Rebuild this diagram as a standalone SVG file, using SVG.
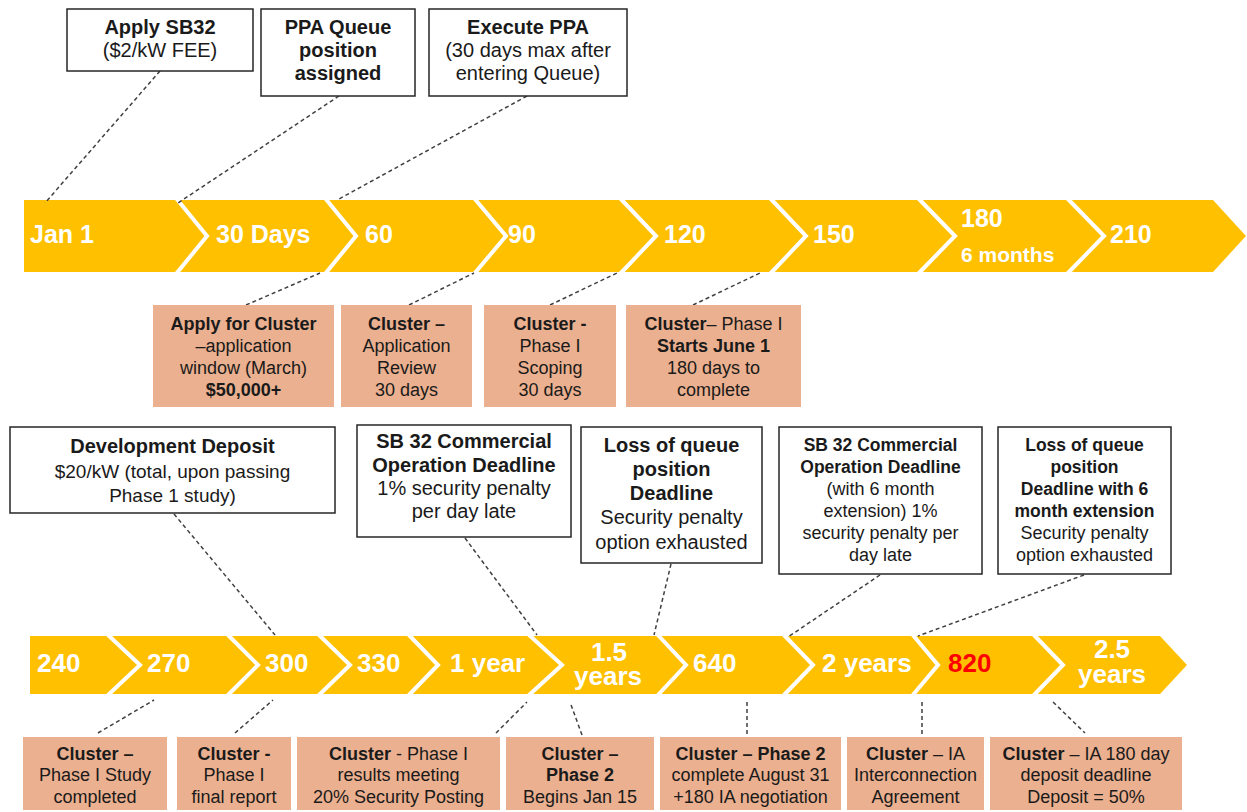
<svg xmlns="http://www.w3.org/2000/svg" width="1247" height="812" viewBox="0 0 1247 812">
<style>
.band{fill:#FFC000}
.sep{fill:none;stroke:#fff;stroke-width:4;stroke-linejoin:miter}
.lbl{font-family:"Liberation Sans",Arial,sans-serif;font-weight:bold;fill:#fff;font-size:25px}
.lbl2{font-family:"Liberation Sans",Arial,sans-serif;font-weight:bold;fill:#fff;font-size:26px}
.box{fill:#fff;stroke:#262626;stroke-width:1.5}
.sbox{fill:#EBB08F}
.t{font-family:"Liberation Sans",Arial,sans-serif;fill:#1a1a1a;text-anchor:middle;font-size:18px}
.t20{font-size:20px}
.b{font-weight:bold}
.conn{fill:none;stroke:#404040;stroke-width:1.5;stroke-dasharray:4 3}
</style>
<rect width="1247" height="812" fill="#fff"/>

<!-- top band -->
<g id="band-top">
<polygon class="band" points="24,200 1213,200 1246,236 1213,272 24,272"/>
<polyline class="sep" points="176,198 207,236 176,274"/>
<polyline class="sep" points="325,198 356,236 325,274"/>
<polyline class="sep" points="474,198 506,236 474,274"/>
<polyline class="sep" points="620,198 656,236 620,274"/>
<polyline class="sep" points="770,198 806,236 770,274"/>
<polyline class="sep" points="918,198 955,236 918,274"/>
<polyline class="sep" points="1067,198 1104,236 1067,274"/>
<text class="lbl" x="30" y="243">Jan 1</text>
<text class="lbl" x="216" y="243">30 Days</text>
<text class="lbl" x="365" y="243">60</text>
<text class="lbl" x="508" y="243">90</text>
<text class="lbl" x="664" y="243">120</text>
<text class="lbl" x="813" y="243">150</text>
<text class="lbl" x="961" y="227">180<tspan x="961" y="262" style="font-size:21px">6 months</tspan></text>
<text class="lbl" x="1110" y="243">210</text>
</g>

<!-- bottom band -->
<g id="band-bottom">
<polygon class="band" points="30,636 1160,636 1187,665 1160,694 30,694"/>
<polyline class="sep" points="107,634 140,665 107,696"/>
<polyline class="sep" points="227,634 258,665 227,696"/>
<polyline class="sep" points="318,634 350,665 318,696"/>
<polyline class="sep" points="408,634 438,665 408,696"/>
<polyline class="sep" points="528,634 562,665 528,696"/>
<polyline class="sep" points="657,634 686,665 657,696"/>
<polyline class="sep" points="783,634 813,665 783,696"/>
<polyline class="sep" points="912,634 938,665 912,696"/>
<polyline class="sep" points="1033,634 1063,665 1033,696"/>
<text class="lbl2" x="37" y="672">240</text>
<text class="lbl2" x="147" y="672">270</text>
<text class="lbl2" x="265" y="672">300</text>
<text class="lbl2" x="357" y="672">330</text>
<text class="lbl2" x="450" y="672">1 year</text>
<text class="lbl2" x="609" y="661" text-anchor="middle">1.5<tspan x="608" y="685">years</tspan></text>
<text class="lbl2" x="693" y="672">640</text>
<text class="lbl2" x="822" y="672">2 years</text>
<text class="lbl2" x="948" y="672" style="fill:#FF0000">820</text>
<text class="lbl2" x="1112" y="658" text-anchor="middle">2.5<tspan x="1112" y="683">years</tspan></text>
</g>

<!-- connectors -->
<g id="connectors">
<line class="conn" x1="160" y1="71" x2="45" y2="203"/>
<line class="conn" x1="339" y1="96" x2="178" y2="203"/>
<line class="conn" x1="527" y1="96" x2="339" y2="199"/>
<line class="conn" x1="246" y1="305" x2="320" y2="273"/>
<line class="conn" x1="409" y1="305" x2="474" y2="273"/>
<line class="conn" x1="550" y1="305" x2="617" y2="273"/>
<line class="conn" x1="693" y1="305" x2="760" y2="273"/>
<line class="conn" x1="174" y1="514" x2="275" y2="635"/>
<line class="conn" x1="465" y1="538" x2="537" y2="635"/>
<line class="conn" x1="671" y1="564" x2="654" y2="635"/>
<line class="conn" x1="880" y1="575" x2="788" y2="637"/>
<line class="conn" x1="1084" y1="575" x2="918" y2="636"/>
<line class="conn" x1="98" y1="733" x2="154" y2="700"/>
<line class="conn" x1="235" y1="733" x2="273" y2="700"/>
<line class="conn" x1="496" y1="733" x2="527" y2="702"/>
<line class="conn" x1="582" y1="735" x2="570" y2="702"/>
<line class="conn" x1="747" y1="702" x2="747" y2="735"/>
<line class="conn" x1="922" y1="702" x2="922" y2="735"/>
<line class="conn" x1="1053" y1="702" x2="1085" y2="733"/>
</g>

<!-- top callouts -->
<g id="apply-sb32">
<rect class="box" x="67" y="9" width="186" height="62"/>
<text class="t t20 b" x="160" y="34">Apply SB32</text>
<text class="t t20" x="160" y="57">($2/kW FEE)</text>
</g>
<g id="ppa-queue">
<rect class="box" x="261" y="9" width="154" height="87"/>
<text class="t t20 b" x="338" y="34">PPA Queue</text>
<text class="t t20 b" x="338" y="57">position</text>
<text class="t t20 b" x="338" y="80">assigned</text>
</g>
<g id="execute-ppa">
<rect class="box" x="429" y="9" width="198" height="87"/>
<text class="t t20 b" x="528" y="34">Execute PPA</text>
<text class="t t20" x="528" y="57">(30 days max after</text>
<text class="t t20" x="528" y="80">entering Queue)</text>
</g>

<!-- middle salmon boxes -->
<g id="apply-cluster">
<rect class="sbox" x="153" y="305" width="181" height="102"/>
<text class="t b" x="243.5" y="330">Apply for Cluster</text>
<text class="t" x="243.5" y="352">–application</text>
<text class="t" x="243.5" y="374">window (March)</text>
<text class="t b" x="243.5" y="396">$50,000+</text>
</g>
<g id="cluster-review">
<rect class="sbox" x="341" y="305" width="131" height="102"/>
<text class="t b" x="406.5" y="330">Cluster –</text>
<text class="t" x="406.5" y="352">Application</text>
<text class="t" x="406.5" y="374">Review</text>
<text class="t" x="406.5" y="396">30 days</text>
</g>
<g id="cluster-scoping">
<rect class="sbox" x="484" y="305" width="132" height="102"/>
<text class="t b" x="550" y="330">Cluster -</text>
<text class="t" x="550" y="352">Phase I</text>
<text class="t" x="550" y="374">Scoping</text>
<text class="t" x="550" y="396">30 days</text>
</g>
<g id="cluster-phase1">
<rect class="sbox" x="626" y="305" width="175" height="102"/>
<text class="t" x="713.5" y="330"><tspan class="b">Cluster</tspan>– Phase I</text>
<text class="t b" x="713.5" y="352">Starts June 1</text>
<text class="t" x="713.5" y="374">180 days to</text>
<text class="t" x="713.5" y="396">complete</text>
</g>

<!-- lower callouts -->
<g id="dev-deposit">
<rect class="box" x="10" y="427" width="325" height="86"/>
<text class="t b" x="172.5" y="453" style="font-size:20px">Development Deposit</text>
<text class="t" x="172.5" y="478" style="font-size:19px">$20/kW (total, upon passing</text>
<text class="t" x="172.5" y="502" style="font-size:19px">Phase 1 study)</text>
</g>
<g id="sb32-deadline">
<rect class="box" x="357" y="425" width="214" height="112"/>
<text class="t t20 b" x="464" y="448">SB 32 Commercial</text>
<text class="t t20 b" x="464" y="472">Operation Deadline</text>
<text class="t t20" x="464" y="495">1% security penalty</text>
<text class="t t20" x="464" y="518">per day late</text>
</g>
<g id="loss-queue">
<rect class="box" x="581" y="427" width="181" height="136"/>
<text class="t t20 b" x="671.5" y="452">Loss of queue</text>
<text class="t t20 b" x="671.5" y="476">position</text>
<text class="t t20 b" x="671.5" y="500">Deadline</text>
<text class="t t20" x="671.5" y="524">Security penalty</text>
<text class="t t20" x="671.5" y="549">option exhausted</text>
</g>
<g id="sb32-ext">
<rect class="box" x="779" y="427" width="203" height="147"/>
<text class="t b" x="880.5" y="451" style="font-size:17.5px">SB 32 Commercial</text>
<text class="t b" x="880.5" y="473" style="font-size:17.5px">Operation Deadline</text>
<text class="t" x="880.5" y="495">(with 6 month</text>
<text class="t" x="880.5" y="517">extension) 1%</text>
<text class="t" x="880.5" y="539">security penalty per</text>
<text class="t" x="880.5" y="561">day late</text>
</g>
<g id="loss-queue-ext">
<rect class="box" x="998" y="427" width="173" height="147"/>
<text class="t b" x="1084.5" y="451" style="font-size:17.5px">Loss of queue</text>
<text class="t b" x="1084.5" y="473" style="font-size:17.5px">position</text>
<text class="t b" x="1084.5" y="495" style="font-size:17.5px">Deadline with 6</text>
<text class="t b" x="1084.5" y="517" style="font-size:17.5px">month extension</text>
<text class="t" x="1084.5" y="539">Security penalty</text>
<text class="t" x="1084.5" y="561">option exhausted</text>
</g>

<!-- bottom salmon boxes -->
<g id="phase1-study">
<rect class="sbox" x="23" y="737" width="144" height="73"/>
<text class="t b" x="95" y="760">Cluster –</text>
<text class="t" x="95" y="781">Phase I Study</text>
<text class="t" x="95" y="803">completed</text>
</g>
<g id="phase1-final">
<rect class="sbox" x="177" y="737" width="114" height="73"/>
<text class="t b" x="234" y="760">Cluster -</text>
<text class="t" x="234" y="781">Phase I</text>
<text class="t" x="234" y="803">final report</text>
</g>
<g id="phase1-results">
<rect class="sbox" x="297" y="737" width="203" height="73"/>
<text class="t" x="398.5" y="760"><tspan class="b">Cluster</tspan> - Phase I</text>
<text class="t" x="398.5" y="781">results meeting</text>
<text class="t" x="398.5" y="803">20% Security Posting</text>
</g>
<g id="phase2-begin">
<rect class="sbox" x="506" y="737" width="148" height="73"/>
<text class="t b" x="580" y="760">Cluster –</text>
<text class="t b" x="580" y="781">Phase 2</text>
<text class="t" x="580" y="803">Begins Jan 15</text>
</g>
<g id="phase2-complete">
<rect class="sbox" x="660" y="737" width="181" height="73"/>
<text class="t b" x="750.5" y="760">Cluster – Phase 2</text>
<text class="t" x="750.5" y="781">complete August 31</text>
<text class="t" x="750.5" y="803">+180 IA negotiation</text>
</g>
<g id="ia-agreement">
<rect class="sbox" x="847" y="737" width="137" height="73"/>
<text class="t" x="915.5" y="760"><tspan class="b">Cluster</tspan> – IA</text>
<text class="t" x="915.5" y="781">Interconnection</text>
<text class="t" x="915.5" y="803">Agreement</text>
</g>
<g id="ia-deposit">
<rect class="sbox" x="990" y="737" width="192" height="73"/>
<text class="t" x="1086" y="760"><tspan class="b">Cluster</tspan> – IA  180 day</text>
<text class="t" x="1086" y="781">deposit deadline</text>
<text class="t" x="1086" y="803">Deposit = 50%</text>
</g>
</svg>
